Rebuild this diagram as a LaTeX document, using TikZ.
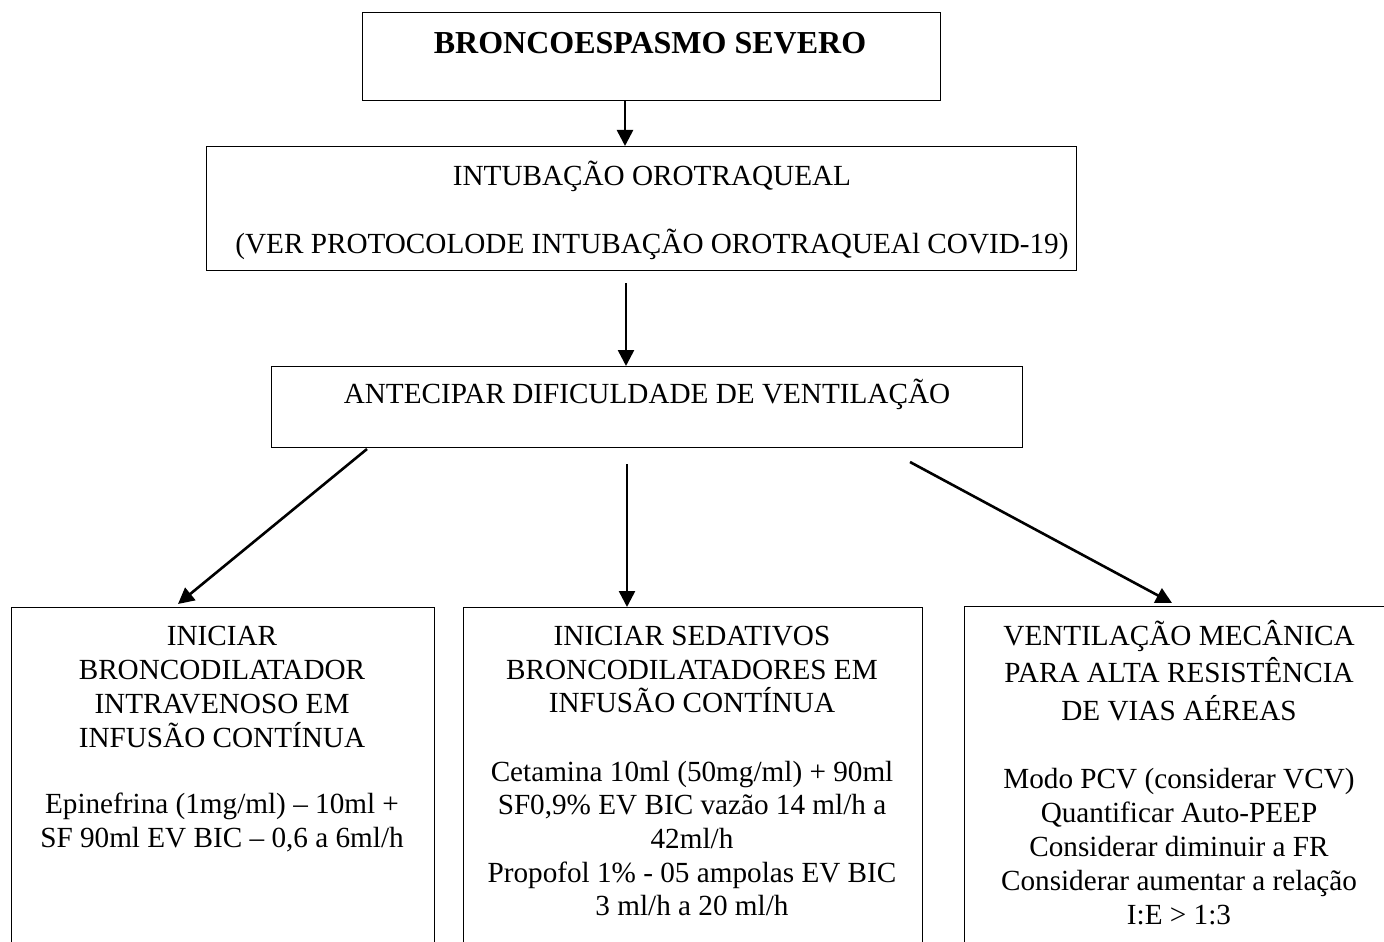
\documentclass[tikz,border=0pt]{standalone}
\usepackage{fontspec}
\setmainfont{Liberation Serif}
\usetikzlibrary{arrows.meta}
\newcommand\tstrut{\rule{0pt}{14pt}}
\begin{document}
\begin{tikzpicture}[x=0.5pt,y=-0.5pt,
  box/.style={draw=black, line width=0.7pt, inner sep=0pt, anchor=north west},
  txt/.style={inner sep=0pt, align=center, anchor=base, font=\fontsize{14.6}{17}\selectfont},
  mtxt/.style={inner sep=0pt, align=center, anchor=north, font=\fontsize{14.6}{17}\selectfont},
  arr/.style={line width=1.3pt, -{Triangle[length=8pt,width=8pt]}}]
\useasboundingbox (0,0) rectangle (1384,941);
\begin{scope}
\clip (0,0) rectangle (1384,941);
% boxes
\node[box, minimum width=289pt, minimum height=44pt] (b1) at (362,12) {};
\node[box, minimum width=435pt, minimum height=62pt] (b2) at (206,146) {};
\node[box, minimum width=375.5pt, minimum height=40.5pt] (b3) at (271,366) {};
\node[box, minimum width=211.5pt, minimum height=200pt] (b4) at (11,607) {};
\node[box, minimum width=229.5pt, minimum height=200pt] (b5) at (463,607) {};
\node[box, minimum width=215pt, minimum height=200pt] (b6) at (964,606) {};
% texts
\node[txt, font=\fontsize{16}{19}\selectfont\bfseries] (t1) at (650,54) {BRONCOESPASMO SEVERO};
\node[mtxt] (t2) at (652,157) {\tstrut INTUBAÇÃO OROTRAQUEAL\\[17pt](VER PROTOCOLODE INTUBAÇÃO OROTRAQUEAl COVID-19)};
\node[txt] (t3) at (647,403) {ANTECIPAR DIFICULDADE DE VENTILAÇÃO};
\node[mtxt] (t4) at (222,617) {\tstrut INICIAR\\BRONCODILATADOR\\INTRAVENOSO EM\\INFUSÃO CONTÍNUA\\[16pt]Epinefrina (1mg/ml) – 10ml +\\SF 90ml EV BIC – 0,6 a 6ml/h};
\node[mtxt, font=\fontsize{14.6}{16.8}\selectfont] (t5) at (692,617) {\tstrut INICIAR SEDATIVOS\\BRONCODILATADORES EM\\INFUSÃO CONTÍNUA\\[17.5pt]Cetamina 10ml (50mg/ml) + 90ml\\SF0,9\% EV BIC vazão 14 ml/h a\\42ml/h\\Propofol 1\% - 05 ampolas EV BIC\\3 ml/h a 20 ml/h};
\node[mtxt, font=\fontsize{14.6}{18.7}\selectfont] (t6a) at (1179,617) {\tstrut VENTILAÇÃO MECÂNICA\\PARA ALTA RESISTÊNCIA\\DE VIAS AÉREAS};
\node[mtxt] (t6b) at (1179,760) {\tstrut Modo PCV (considerar VCV)\\Quantificar Auto-PEEP\\Considerar diminuir a FR\\Considerar aumentar a relação\\I:E > 1:3};
% arrows
\coordinate (ax) at (625,0);
\draw[arr] (ax |- b1.south) -- (ax |- b2.north);
\coordinate (a2s) at (626,283);
\draw[arr] (a2s) -- (a2s |- b3.north);
\coordinate (a3s) at (367,449);
\coordinate (a3e) at (178,604);
\draw[arr] (a3s) -- (a3e);
\coordinate (a4s) at (627,464);
\draw[arr] (a4s) -- (a4s |- b5.north);
\coordinate (a5s) at (910,462);
\coordinate (a5e) at (1172,603);
\draw[arr] (a5s) -- (a5e);
\end{scope}
\end{tikzpicture}
\end{document}
